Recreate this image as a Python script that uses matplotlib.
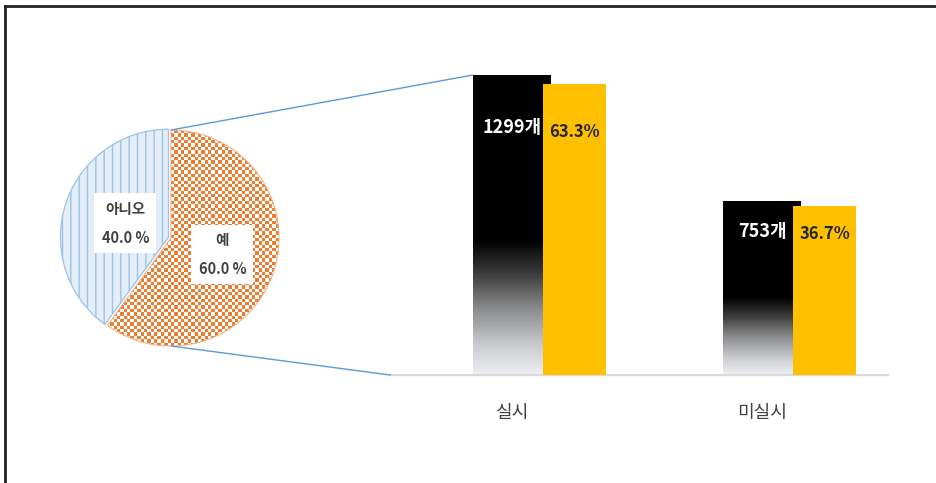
import numpy as np
import matplotlib
matplotlib.use("Agg")
import matplotlib.pyplot as plt
from matplotlib.colors import LinearSegmentedColormap, ListedColormap
from matplotlib.patches import ConnectionPatch
from matplotlib.lines import Line2D

plt.rcParams["font.family"] = ["Noto Sans CJK KR", "DejaVu Sans"]
plt.rcParams["hatch.linewidth"] = 1.0

# ---- data ----
pie_labels = ["예", "아니오"]
pie_shares = [60.0, 40.0]
categories = ["실시", "미실시"]
counts = [1299, 753]
percents = [63.3, 36.7]

W, H = 937, 483
fig = plt.figure(figsize=(W / 100, H / 100), dpi=100)

# ---- pie ----
axp = fig.add_axes([63 / W, 137 / H, 216 / W, 216 / H])
wedges, _ = axp.pie(pie_shares, startangle=90, counterclock=False,
                    explode=[0, 0.025], radius=1)
yes_w, no_w = wedges
yes_w.set_facecolor("none")
yes_w.set_edgecolor("#f4b183")
yes_w.set_linewidth(0.8)
no_w.set_facecolor("#e4eef9")
no_w.set_edgecolor("#9dc3e6")
no_w.set_hatch("||")
no_w.set_linewidth(0.9)
for w in wedges:
    w.set_clip_on(False)

# checker texture for the "예" slice
n = 64
yy, xx = np.mgrid[0:n, 0:n]
im = axp.imshow((xx + yy) % 2, cmap=ListedColormap(["white", "#ed7d31"]),
                extent=[-1, 1, -1, 1], interpolation="nearest", zorder=0.5)
im.set_clip_path(yes_w)
axp.set_xlim(-1, 1)
axp.set_ylim(-1, 1)
axp.set_aspect("equal")
axp.axis("off")

for w, lab, share, r in zip(wedges, pie_labels, pie_shares, [0.5, 0.42]):
    ang = np.deg2rad((w.theta1 + w.theta2) / 2)
    cx, cy = w.center
    axp.text(cx + r * np.cos(ang), cy + r * np.sin(ang), f"{lab}\n{share:.1f} %",
             ha="center", va="center", fontsize=10.5, fontweight="bold",
             color="#404040", linespacing=2.0, zorder=5,
             bbox=dict(boxstyle="square,pad=0.5", fc="white", ec="none"))

# ---- bars ----
axb = fig.add_axes([390 / W, 1 - 375 / H, 498 / W, 315 / H])
x = np.arange(len(categories))
bw, yw, off = 0.312, 0.252, 0.25

grad_cmap = LinearSegmentedColormap.from_list("fade", [
    (0.0, "#eef0f3"), (0.1, "#c8cacd"), (0.22, "#8a8b8d"),
    (0.34, "#3a3a3a"), (0.45, "#000000"), (1.0, "#000000")])
grad = np.linspace(0, 1, 256).reshape(-1, 1)

bars = axb.bar(x, counts, width=bw, color="none", edgecolor="none")
for b in bars:
    gi = axb.imshow(grad, cmap=grad_cmap, origin="lower", aspect="auto",
                    extent=[b.get_x(), b.get_x() + b.get_width(), 0, b.get_height()],
                    zorder=2)
    gi.set_clip_path(b)

axb.set_xlim(-0.488, 1.504)
axb.set_ylim(0, 1364)
for xi, c in zip(x, counts):
    axb.text(xi, 0.825 * c, f"{c}개", ha="center", va="center", color="white",
             fontsize=13, fontweight="bold", zorder=5)

axy = axb.twinx()
axy.bar(x + off, percents, width=yw, color="#ffc000")
axy.set_ylim(0, 68.5)
for xi, p in zip(x, percents):
    axy.text(xi + off, 0.835 * p, f"{p}%", ha="center", va="center", color="#262626",
             fontsize=12, fontweight="bold")

for a in (axb, axy):
    for s in a.spines.values():
        s.set_visible(False)
    a.set_yticks([])
axb.spines["bottom"].set_visible(True)
axb.spines["bottom"].set_color("#d9d9d9")
axb.spines["bottom"].set_linewidth(1.6)
axb.set_xticks(x)
axb.set_xticklabels(categories, fontsize=13, color="#404040")
axb.tick_params(axis="x", length=0, pad=21)

# ---- connector lines ----
fig.add_artist(ConnectionPatch(xyA=(0, 1), coordsA=axp.transData,
                               xyB=(x[0] - bw / 2, counts[0]), coordsB=axb.transData,
                               color="#5b9bd5", lw=1))
fig.add_artist(ConnectionPatch(xyA=(0, -1), coordsA=axp.transData,
                               xyB=(axb.get_xlim()[0], 0), coordsB=axb.transData,
                               color="#5b9bd5", lw=1))

# ---- frame ----
fig.add_artist(Line2D([5 / W, 5 / W], [0, 1 - 6 / H], transform=fig.transFigure,
                      color="#222222", lw=2))
fig.add_artist(Line2D([5 / W, 1], [1 - 6 / H, 1 - 6 / H], transform=fig.transFigure,
                      color="#222222", lw=2))

fig.savefig("out.png", dpi=100)
